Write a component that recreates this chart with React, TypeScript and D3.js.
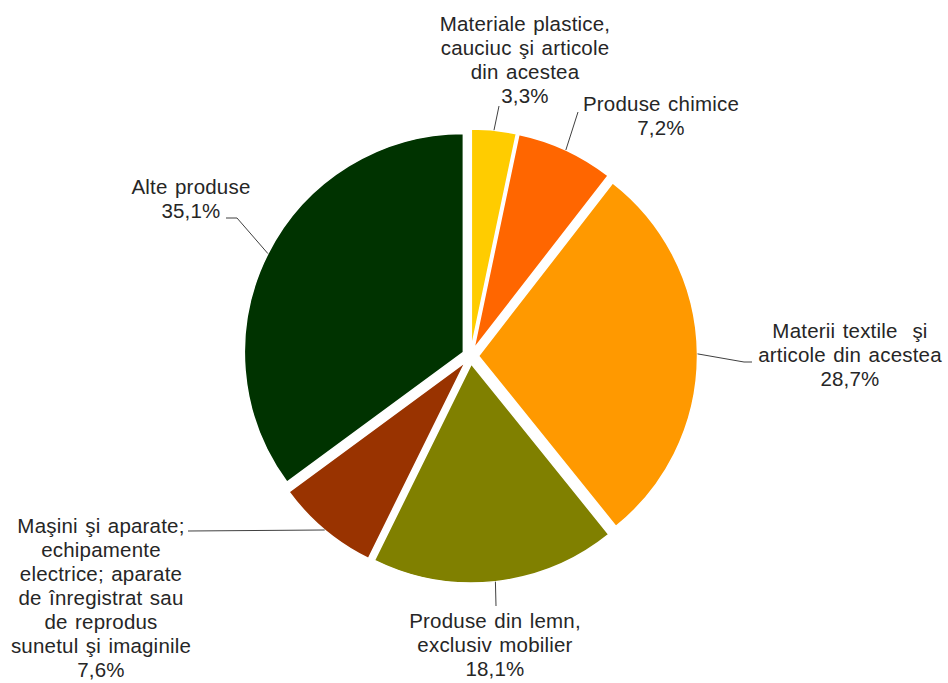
import React from "react";
import * as d3 from "d3";

const categories = [
  "Materiale plastice, cauciuc şi articole din acestea",
  "Produse chimice",
  "Materii textile şi articole din acestea",
  "Produse din lemn, exclusiv mobilier",
  "Maşini şi aparate; echipamente electrice; aparate de înregistrat sau de reprodus sunetul şi imaginile",
  "Alte produse",
];
const values = [3.3, 7.2, 28.7, 18.1, 7.6, 35.1];
const valueLabels = ["3,3%", "7,2%", "28,7%", "18,1%", "7,6%", "35,1%"];
const labelLines = [
  ["Materiale plastice,", "cauciuc şi articole", "din acestea"],
  ["Produse chimice"],
  ["Materii textile  şi", "articole din acestea"],
  ["Produse din lemn,", "exclusiv mobilier"],
  ["Maşini şi aparate;", "echipamente", "electrice; aparate", "de înregistrat sau", "de reprodus", "sunetul şi imaginile"],
  ["Alte produse"],
];
const colors = ["#FFCC00", "#FF6600", "#FF9900", "#808000", "#993300", "#003300"];

// layout (label anchor: center x, first baseline y; leader path points after the arc point)
const layout = {
  cx: 470.5,
  cy: 356,
  r: 219,
  explode: 8,
  lineH: 24,
  labels: [
    { x: 525, y: 31, leader: [[499, 106]] },
    { x: 661, y: 111, leader: [[578, 112]] },
    { x: 850, y: 338, leader: [[744, 362], [752, 362]] },
    { x: 495, y: 628, leader: [[496, 606]] },
    { x: 101, y: 533, leader: [[188, 531]] },
    { x: 191, y: 194, leader: [[237, 218], [226, 218]] },
  ],
};

export default function App() {
  const W = 948;
  const H = 683;
  const { cx, cy, r, explode, lineH } = layout;
  const pie = d3
    .pie<number>()
    .sort(null)
    .value((d) => d)
    .startAngle(0)
    .endAngle(2 * Math.PI);
  const arcs = pie(values);
  const arc = d3.arc<d3.PieArcDatum<number>>().innerRadius(0).outerRadius(r);

  return (
    <svg
      width={W}
      height={H}
      style={{ position: "absolute", left: 0, top: 0, background: "#fff" }}
      fontFamily="'Liberation Sans', Arial, sans-serif"
    >
      <rect x={0} y={0} width={W} height={H} fill="#fff" />
      {arcs.map((a, i) => {
        const mid = (a.startAngle + a.endAngle) / 2;
        const dx = Math.sin(mid) * explode;
        const dy = -Math.cos(mid) * explode;
        return (
          <path
            key={categories[i]}
            d={arc(a) || ""}
            transform={`translate(${cx + dx},${cy + dy})`}
            fill={colors[i]}
            stroke="#fff"
            strokeWidth={1.5}
          />
        );
      })}
      {arcs.map((a, i) => {
        const mid = (a.startAngle + a.endAngle) / 2;
        const R = r + explode;
        const p0: [number, number] = [cx + Math.sin(mid) * R, cy - Math.cos(mid) * R];
        const pts = [p0, ...(layout.labels[i].leader as [number, number][])];
        const line = d3.line()(pts) || "";
        return <path key={"l" + i} d={line} fill="none" stroke="#404040" strokeWidth={1} />;
      })}
      {labelLines.map((lines, i) => {
        const L = layout.labels[i];
        const all = [...lines, valueLabels[i]];
        return (
          <text
            key={"t" + i}
            x={L.x}
            y={L.y}
            textAnchor="middle"
            fontSize={20.5}
            letterSpacing={0.2}
            wordSpacing={1.5}
            fill="#262626"
            style={{ whiteSpace: "pre" }}
          >
            {all.map((s, j) => (
              <tspan key={j} x={L.x} y={L.y + j * lineH}>
                {s}
              </tspan>
            ))}
          </text>
        );
      })}
    </svg>
  );
}
